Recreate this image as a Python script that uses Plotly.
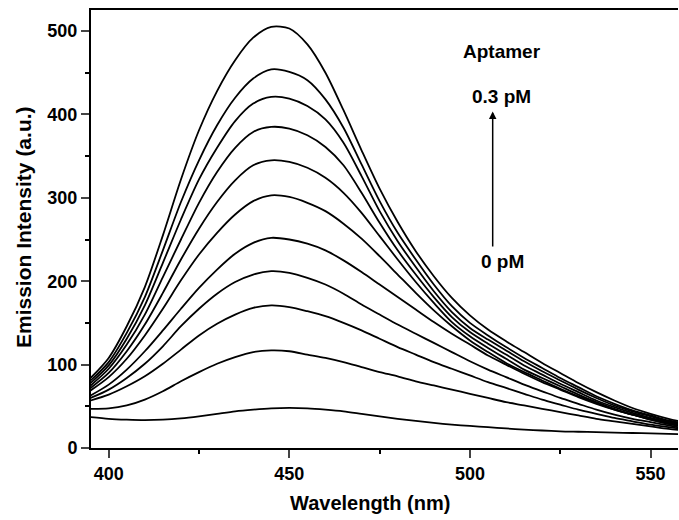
import plotly.graph_objects as go

wavelength = [395, 400, 405, 410, 415, 420, 425, 430, 435, 440, 445, 450, 455, 460, 465, 470,
              475, 480, 485, 490, 495, 500, 505, 510, 515, 520, 525, 530, 535, 540, 545, 550, 555, 560]

c_030 = [84, 108, 146, 193, 255, 322, 381, 428, 465, 492, 505, 503, 484, 450, 405, 357,
         311, 271, 236, 206, 180, 159, 142, 128, 115, 102, 90, 78, 67, 57, 48, 41, 35, 30]
c_027 = [81, 103, 138, 181, 237, 295, 345, 387, 420, 443, 454, 451, 441, 418, 384, 340,
         296, 258, 226, 196, 170, 150, 135, 121, 108, 96, 84, 73, 62, 53, 45, 39, 33, 29]
c_024 = [78, 99, 131, 171, 222, 274, 322, 360, 392, 413, 421, 419, 410, 394, 366, 326,
         284, 248, 217, 188, 163, 144, 130, 117, 104, 92, 81, 70, 60, 51, 44, 38, 32, 28]
c_021 = [75, 95, 124, 160, 205, 250, 294, 331, 360, 379, 385, 383, 375, 361, 339, 306,
         270, 237, 208, 181, 157, 139, 125, 112, 99, 88, 77, 67, 57, 49, 42, 36, 31, 27]
c_018 = [72, 90, 116, 148, 186, 226, 263, 295, 321, 339, 345, 343, 336, 324, 306, 282,
         254, 226, 199, 174, 151, 134, 120, 107, 94, 84, 74, 64, 55, 47, 40, 35, 30, 26]
c_015 = [69, 85, 107, 135, 167, 201, 232, 258, 280, 296, 303, 301, 294, 284, 269, 251,
         230, 208, 186, 165, 146, 129, 115, 102, 91, 81, 71, 62, 54, 46, 40, 34, 29, 25]
c_012 = [63, 76, 94, 116, 141, 167, 192, 214, 233, 246, 252, 250, 245, 237, 225, 211,
         196, 181, 166, 151, 137, 124, 111, 100, 89, 79, 70, 61, 53, 46, 40, 34, 29, 25]
c_009 = [60, 70, 84, 101, 122, 146, 167, 185, 199, 208, 212, 210, 204, 196, 185, 172,
         160, 148, 137, 126, 115, 104, 94, 85, 76, 68, 60, 53, 46, 40, 35, 31, 27, 23]
c_006 = [57, 64, 74, 86, 101, 118, 135, 149, 160, 168, 171, 169, 164, 158, 150, 141,
         131, 121, 112, 103, 95, 87, 79, 72, 65, 58, 52, 46, 41, 36, 32, 28, 25, 22]
c_003 = [47, 47.5, 51, 58, 68, 80, 91, 101, 109, 115, 117, 116, 112, 108, 103, 97,
         91, 86, 80, 75, 70, 65, 60, 55, 51, 47, 43, 39, 35, 32, 29, 26, 23, 21]
c_000 = [37, 35, 34, 33.5, 34, 35.5, 38, 41, 44, 46, 47.5, 48, 47.5, 46, 44, 41,
         38, 35, 32.5, 30, 28, 26.5, 25, 23.5, 22, 21, 20, 19.5, 19, 18.5, 18, 17.5, 17, 16.5]

series = [c_030, c_027, c_024, c_021, c_018, c_015, c_012, c_009, c_006, c_003, c_000]

x_ticks = [400, 450, 500, 550]
y_ticks = [0, 100, 200, 300, 400, 500]

FONT = "Liberation Sans, Arial, sans-serif"

fig = go.Figure()
for s in series:
    fig.add_trace(go.Scatter(x=wavelength, y=s, mode="lines",
                             line=dict(color="black", width=1.8, shape="spline", smoothing=0.8),
                             showlegend=False, hoverinfo="skip"))

fig.update_layout(
    width=679, height=520,
    margin=dict(l=91, r=1, t=10, b=72),
    paper_bgcolor="white", plot_bgcolor="white",
    font=dict(family=FONT, color="black"),
    xaxis=dict(range=[395.1, 557.6], tickvals=x_ticks, ticks="outside", ticklen=8, tickwidth=2,
               showline=True, linewidth=2, linecolor="black", mirror=True, showgrid=False, zeroline=False,
               tickfont=dict(size=18, family=FONT, weight="bold"),
               minor=dict(tickvals=[425, 475, 525], ticks="outside", ticklen=4, tickwidth=2, tickcolor="black")),
    yaxis=dict(range=[0, 525.2], tickvals=y_ticks, ticks="outside", ticklen=8, tickwidth=2,
               showline=True, linewidth=2, linecolor="black", showgrid=False, zeroline=False,
               tickfont=dict(size=18, family=FONT, weight="bold"),
               minor=dict(tickvals=[50, 150, 250, 350, 450], ticks="outside", ticklen=4, tickwidth=2, tickcolor="black")),
)

fig.add_annotation(xref="paper", yref="paper", x=(370 - 91) / 587, y=(448 - 503) / 438,
                   text="<b>Wavelength (nm)</b>", showarrow=False, font=dict(size=20, family=FONT),
                   xanchor="center", yanchor="middle")
fig.add_annotation(xref="paper", yref="paper", x=(24 - 91) / 587, y=(448 - 227) / 438,
                   text="<b>Emission Intensity (a.u.)</b>", showarrow=False, textangle=-90,
                   font=dict(size=21, family=FONT), xanchor="center", yanchor="middle")

fig.add_annotation(x=509.0, y=475.2, text="<b>Aptamer</b>", showarrow=False, font=dict(size=19, family=FONT))
fig.add_annotation(x=508.6, y=421.6, text="<b>0.3 pM</b>", showarrow=False, font=dict(size=19, family=FONT))
fig.add_annotation(x=508.9, y=223.7, text="<b>0 pM</b>", showarrow=False, font=dict(size=19, family=FONT))
fig.add_annotation(x=506.3, y=403.6, ax=506.3, ay=239.8, axref="x", ayref="y", xref="x", yref="y",
                   text="", showarrow=True, arrowhead=2, arrowsize=1, arrowwidth=1.5, arrowcolor="black")

fig.write_html("out.html")
